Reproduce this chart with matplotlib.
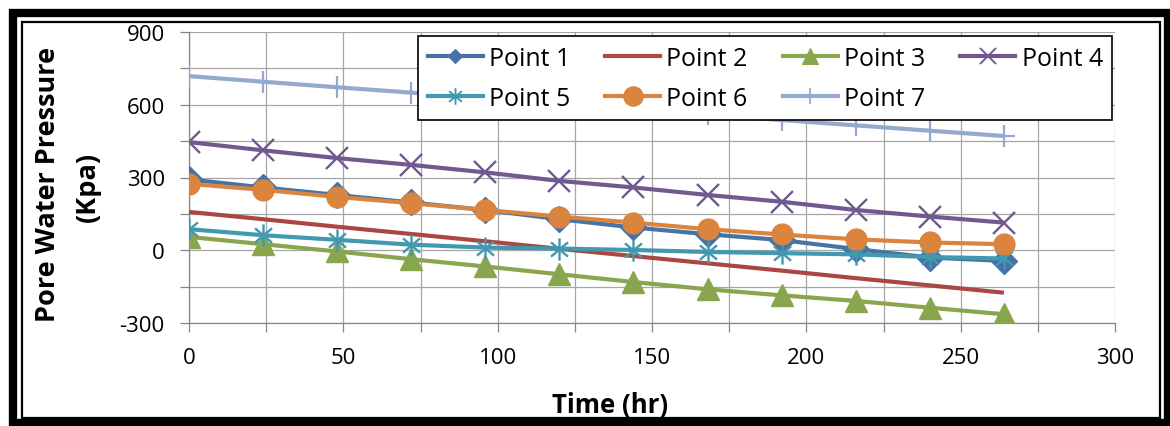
import matplotlib
matplotlib.use('Agg')
import matplotlib.pyplot as plt
from matplotlib.lines import Line2D
from matplotlib.patches import Rectangle
from matplotlib.path import Path
from matplotlib.ticker import MultipleLocator

# ---------------- data ----------------
time_hr = [0, 24, 48, 72, 96, 120, 144, 168, 192, 216, 240, 264]
point_1 = [292, 259, 228, 197, 166, 128, 94, 66, 42, 5, -30, -44]
point_2 = [158, 128, 97, 67, 37, 6, -24, -54, -84, -115, -145, -175]
point_3 = [55, 25, -5, -37, -67, -99, -131, -161, -186, -209, -237, -264]
point_4 = [446, 412, 380, 352, 321, 286, 259, 228, 200, 166, 139, 114]
point_5 = [87, 62, 43, 23, 11, 7, 1, -7, -12, -17, -28, -34]
point_6 = [274, 249, 220, 194, 166, 139, 114, 87, 65, 45, 32, 25]
point_7 = [718, 695, 672, 650, 627, 605, 583, 560, 537, 515, 493, 471]
labels = ['Point 1', 'Point 2', 'Point 3', 'Point 4', 'Point 5', 'Point 6', 'Point 7']

# ---------------- style ----------------
W, H = 1170, 427
font = 'Open Sans'
plt.rcParams['font.family'] = [font, 'DejaVu Sans']
plt.rcParams['axes.unicode_minus'] = False
grid_color = '#A6A6A6'
axis_color = '#868686'

colors = ['#4572A7', '#AA4643', '#89A54E', '#71588F', '#4198AF', '#DB843D', '#93A9CF']

# excel style asterisk: vertical bar + an X
c, s = 0.766, 0.643
asterisk = Path([(0, -1), (0, 1), (-c, -s), (c, s), (-c, s), (c, -s)],
                [Path.MOVETO, Path.LINETO, Path.MOVETO, Path.LINETO, Path.MOVETO, Path.LINETO])

markers = ['D', None, '^', 'x', asterisk, 'o', '+']
plot_ms = [13.5, 0, 16, 16, 16, 15, 16]
legend_ms = [7, 0, 12, 12, 12, 14, 12]
mew = [1, 1, 1, 1.7, 1.7, 1, 1.6]
series = [point_1, point_2, point_3, point_4, point_5, point_6, point_7]


def px(x):
    return x / W


def py(y):
    return 1 - y / H


fig = plt.figure(figsize=(W / 100, H / 100), dpi=100)
ax = fig.add_axes([px(189), py(324), px(1115 - 189), (324 - 33) / H])

for i, vals in enumerate(series):
    ax.plot(time_hr, vals, color=colors[i], lw=3,
            marker=markers[i], markersize=plot_ms[i],
            markerfacecolor=colors[i], markeredgecolor=colors[i],
            markeredgewidth=mew[i], solid_capstyle='butt', zorder=3 + i)

ax.set_xlim(0, 300)
ax.set_ylim(-300, 900)
ax.xaxis.set_major_locator(MultipleLocator(50))
ax.xaxis.set_minor_locator(MultipleLocator(25))
ax.yaxis.set_major_locator(MultipleLocator(300))
ax.yaxis.set_minor_locator(MultipleLocator(150))
ax.grid(True, which='both', color=grid_color, lw=0.9, zorder=0)
ax.set_axisbelow(True)

for side in ['top', 'right']:
    ax.spines[side].set_visible(False)
for side in ['left', 'bottom']:
    ax.spines[side].set_color(axis_color)
    ax.spines[side].set_linewidth(0.9)

ax.tick_params(axis='both', which='both', direction='out', length=6.5, width=0.9,
               color=axis_color, labelsize=16, labelcolor='black')
ax.tick_params(axis='x', which='major', pad=11)
ax.tick_params(axis='y', which='major', pad=11)

# legend with proxy handles (markers drawn smaller, like the original)
handles = []
for i in range(7):
    handles.append(Line2D([], [], color=colors[i], lw=3, marker=markers[i],
                          markersize=legend_ms[i], markerfacecolor=colors[i],
                          markeredgecolor=colors[i], markeredgewidth=mew[i] * 0.8))
order = [0, 4, 1, 5, 2, 6, 3]
leg = ax.legend([handles[k] for k in order], [labels[k] for k in order],
                ncol=4, loc='upper left', bbox_to_anchor=(px(418), py(37)),
                bbox_transform=fig.transFigure, fontsize=18, frameon=True,
                fancybox=False, framealpha=1, edgecolor='black',
                handlelength=2.2, handletextpad=0.25, columnspacing=1.4,
                borderpad=0.38, labelspacing=0.6, borderaxespad=0)
leg.get_frame().set_linewidth(1.2)
leg.set_zorder(20)

# axis titles
fig.text(px(610), py(413), 'Time (hr)', ha='center', va='baseline',
         fontsize=18.5, fontweight='bold')
fig.text(px(48), py(184), 'Pore Water Pressure', ha='center', va='center',
         rotation=90, fontsize=19.5, fontweight='bold')
fig.text(px(88), py(187), '(Kpa)', ha='center', va='center',
         rotation=90, fontsize=19.5, fontweight='bold')

# double frame around the chart
fig.add_artist(Rectangle((px(13), py(424)), px(1168 - 13), (424 - 14) / H,
                         transform=fig.transFigure, fill=False, lw=6, ec='black'))
fig.add_artist(Rectangle((px(22), py(419)), px(1160 - 22), (419 - 23) / H,
                         transform=fig.transFigure, fill=False, lw=1.6, ec='black'))

fig.savefig('out.png', dpi=100)
